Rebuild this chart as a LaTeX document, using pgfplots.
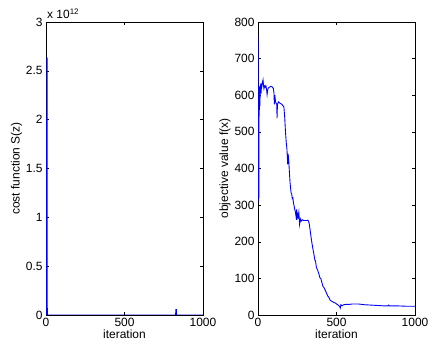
\documentclass[border=0pt]{standalone}
\usepackage{pgfplots}
\pgfplotsset{compat=1.18}
\usepackage{fontspec}
\setmainfont{Liberation Sans}
\begin{document}
\begin{tikzpicture}
\useasboundingbox (0bp,0bp) rectangle (442bp,352bp);
\pgfplotsset{
  every axis/.append style={
    scale only axis, width=157bp, height=293bp,
    anchor=south west,
    font=\fontsize{12}{13}\selectfont,
    /pgf/number format/assume math mode=true,
    /pgf/number format/1000 sep={},
    tick align=inside, major tick length=3bp,
    xmin=0, xmax=1000, xtick={0,500,1000},
    xlabel={iteration},
    xlabel style={yshift=4bp},
    ylabel style={yshift=-3bp},
    axis line style={line width=0.6pt},
    every tick/.style={black, line width=0.5pt},
  }
}
\begin{axis}[
  at={(46bp,37bp)},
  ymin=0, ymax=3e12,
  ytick={0,0.5e12,1e12,1.5e12,2e12,2.5e12,3e12},
  scaled y ticks=base 10:-12,
  ytick scale label code/.code={x 10\textsuperscript{12}},
  every y tick scale label/.style={at={(rel axis cs:0,1)}, anchor=south west, inner sep=1pt, yshift=2bp},
  ylabel={cost function S(z)},
  yticklabel style={/pgf/number format/fixed},
]
\addplot[blue, line width=1pt] coordinates {
(0,0) (4,0) (5,2.63e12) (7,2.63e12) (8,0) (10,0) (826,0) (827,0.055e12) (830,0.055e12) (831,0) (1000,0)
};
\end{axis}
\begin{axis}[
  at={(258bp,37bp)},
  ymin=0, ymax=800,
  ytick={0,100,...,800},
  ylabel={objective value f(x)},
]
\addplot[blue, line width=0.9pt] coordinates {
(0,762) (1,700) (2,600) (3,450) (4,330) (5,310) (6,420) (7,600) (8,625) (9,560) (10,620) (12,570) (14,615) (16,625) (18,632) (20,605) (22,628) (25,625) (28,635) (32,642) (35,628) (38,618) (42,625) (46,622) (50,626) (54,618) (58,602) (62,615) (66,620) (72,622) (80,624) (90,623) (98,618) (102,605) (104,575) (107,600) (112,582) (116,578) (120,575) (121,537) (124,575) (130,582) (140,578) (150,576) (158,572) (165,568) (170,540) (175,500) (180,470) (184,455) (187,430) (189,411) (192,440) (196,420) (200,390) (204,362) (208,345) (211,333) (215,330) (218,318) (222,320) (226,305) (230,298) (234,288) (238,282) (242,270) (246,288) (248,260) (252,275) (256,268) (260,280) (265,247) (270,262) (275,256) (282,260) (290,258) (300,258) (310,258) (318,259) (325,252) (332,232) (338,212) (344,195) (350,180) (356,166) (362,150) (366,148) (372,130) (380,122) (388,112) (394,102) (400,100) (406,90) (414,78) (420,75) (428,68) (436,60) (444,52) (452,48) (460,40) (468,38) (476,36) (484,34) (492,33) (500,30) (508,28) (515,25) (520,24) (524,19) (528,28) (535,25) (545,28) (560,29) (580,29) (600,30) (640,30) (680,28) (720,27) (760,26) (800,25) (828,25) (832,27) (836,25) (880,25) (940,24) (1000,24)
};
\end{axis}
\end{tikzpicture}
\end{document}
